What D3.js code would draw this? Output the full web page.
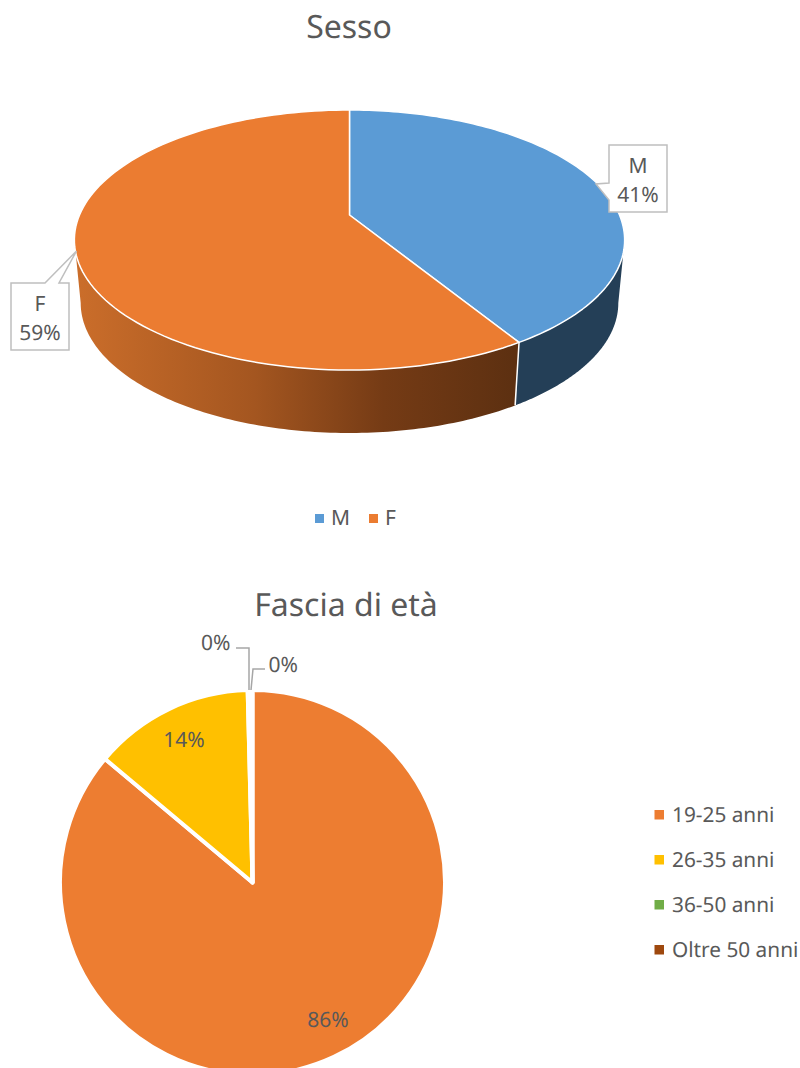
<!DOCTYPE html>
<html>
<head>
<meta charset="utf-8">
<script src="https://d3js.org/d3.v7.min.js"></script>
<style>
  html, body { margin: 0; padding: 0; background: #fff; }
  svg { display: block; }
  text { font-family: "Noto Sans", "Open Sans", sans-serif; fill: #595959; text-rendering: geometricPrecision; }
</style>
</head>
<body>
<div id="chart"></div>
<script>
// data
var sexLabels = ['M', 'F'];
var sexValues = [41.2, 58.8];
var sexColors = ['#5b9bd5', '#eb7c31'];

var ageLabels = ['19-25 anni', '26-35 anni', '36-50 anni', 'Oltre 50 anni'];
var ageValues = [86.1, 13.5, 0.2, 0.2];
var ageColors = ['#ed7d31', '#ffc000', '#70ad47', '#9e480e'];

var svg = d3.select('#chart').append('svg')
  .attr('width', 800)
  .attr('height', 1068);

var pct = function(v) { return d3.format('.0f')(v) + '%'; };
var pie = d3.pie().sort(null);

// title helper
function chartTitle(label, x, y) {
  svg.append('text')
    .attr('x', x).attr('y', y)
    .attr('text-anchor', 'middle')
    .style('font-size', '32px')
    .text(label);
}

/* ---- Sesso: tilted pie ---- */
chartTitle('Sesso', 349, 38);

// perspective of the tilted disc
var cx = 349.5, cy = 215, rx = 270, ry = 125.2, k = -0.1923;
var depth = 63, shrink = 0.977;
// angles where the disc is widest, only the part between them shows a wall
var wallStart = Math.acos(k), wallEnd = 2 * Math.PI - wallStart;

function topRim(a) {
  var u = Math.sin(a), v = -Math.cos(a), w = 1 + k * v;
  return [cx + rx * u / w, cy + ry * v / w];
}
function bottomRim(a) {
  var p = topRim(a);
  return [cx + (p[0] - cx) * shrink, p[1] + depth];
}
function angles(start, end) {
  return d3.range(0, 121).map(function(i) {
    return start + (end - start) * i / 120;
  });
}
var line = d3.line();

var defs = svg.append('defs');
var sideF = defs.append('linearGradient')
  .attr('id', 'sideF')
  .attr('gradientUnits', 'userSpaceOnUse')
  .attr('x1', 80).attr('x2', 514).attr('y1', 0).attr('y2', 0);
[[0, '#ca6d2a'], [0.4, '#a45620'], [0.7, '#753b15'], [1, '#5d3011']].forEach(function(s) {
  sideF.append('stop').attr('offset', s[0]).attr('stop-color', s[1]);
});
var sideFill = ['#243f57', 'url(#sideF)'];

var sexArcs = pie(sexValues);
var pie3d = svg.append('g');

// side walls first, the top face covers their upper edge
pie3d.selectAll('path.side')
  .data(sexArcs)
  .enter().append('path')
  .attr('class', 'side')
  .attr('fill', function(d, i) { return sideFill[i]; })
  .attr('d', function(d) {
    var a = angles(Math.max(d.startAngle, wallStart), Math.min(d.endAngle, wallEnd));
    return line(a.map(topRim).concat(a.slice().reverse().map(bottomRim))) + 'Z';
  });

// white seam between the two walls
pie3d.append('path')
  .attr('d', line([topRim(sexArcs[0].endAngle), bottomRim(sexArcs[0].endAngle)]))
  .attr('stroke', '#fff')
  .attr('stroke-width', 1.5);

pie3d.selectAll('path.face')
  .data(sexArcs)
  .enter().append('path')
  .attr('class', 'face')
  .attr('fill', function(d, i) { return sexColors[i]; })
  .attr('stroke', '#fff')
  .attr('stroke-width', 1.5)
  .attr('stroke-linejoin', 'round')
  .attr('d', function(d) {
    return line([[cx, cy]].concat(angles(d.startAngle, d.endAngle).map(topRim))) + 'Z';
  });

// callouts
var callouts = [
  { x: 609, y: 145, w: 58, h: 67, tail: [[0, 38], [-13, 39], [0, 55]], side: 'left' },
  { x: 11, y: 283, w: 58, h: 67, tail: [[34, 0], [65.5, -32], [48, 0]], side: 'top' }
];
callouts.forEach(function(c, i) {
  var pts;
  if (c.side === 'left') {
    pts = [[0, 0], [c.w, 0], [c.w, c.h], [0, c.h]].concat(c.tail.slice().reverse());
  } else {
    pts = [[0, 0]].concat(c.tail).concat([[c.w, 0], [c.w, c.h], [0, c.h]]);
  }
  var g = svg.append('g').attr('transform', 'translate(' + c.x + ',' + c.y + ')');
  g.append('path')
    .attr('d', line(pts) + 'Z')
    .attr('fill', '#fff')
    .attr('stroke', '#bfbfbf')
    .attr('stroke-width', 1.5);
  g.append('text')
    .attr('x', c.w / 2).attr('y', 28)
    .attr('text-anchor', 'middle')
    .style('font-size', '21px')
    .text(sexLabels[i]);
  g.append('text')
    .attr('x', c.w / 2).attr('y', 57)
    .attr('text-anchor', 'middle')
    .style('font-size', '21px')
    .text(pct(sexValues[i]));
});

// legend of the first chart
var legendX = [315, 369];
sexLabels.forEach(function(label, i) {
  svg.append('rect')
    .attr('x', legendX[i]).attr('y', 514)
    .attr('width', 9).attr('height', 9)
    .attr('fill', sexColors[i]);
  svg.append('text')
    .attr('x', legendX[i] + 16).attr('y', 525)
    .style('font-size', '21px')
    .text(label);
});

/* ---- Fascia di età: flat pie ---- */
chartTitle('Fascia di età', 346, 616);

var arc = d3.arc().innerRadius(0).outerRadius(192.5);
var flat = svg.append('g').attr('transform', 'translate(252.5,882.5)');
var ageArcs = pie(ageValues);

flat.selectAll('path')
  .data(ageArcs)
  .enter().append('path')
  .attr('d', arc)
  .attr('fill', function(d, i) { return ageColors[i]; })
  .attr('stroke', '#fff')
  .attr('stroke-width', 4)
  .attr('stroke-linejoin', 'round');

// data labels
var ageLabelPos = [[328, 1027], [184, 747], [298, 672], [201, 650]];
ageValues.forEach(function(v, i) {
  svg.append('text')
    .attr('x', ageLabelPos[i][0]).attr('y', ageLabelPos[i][1])
    .attr('text-anchor', i === 2 ? 'end' : (i === 3 ? 'start' : 'middle'))
    .style('font-size', '21px')
    .text(pct(v));
});

// leader lines of the two 0% labels
var leaders = [
  [[265, 669], [253, 669], [251, 690]],
  [[236, 648], [249, 648], [249, 690]]
];
leaders.forEach(function(l) {
  svg.append('path')
    .attr('d', line(l))
    .attr('fill', 'none')
    .attr('stroke', '#a6a6a6')
    .attr('stroke-width', 1.5);
});

// legend of the second chart
var legendY = d3.scalePoint().domain(ageLabels).range([815, 950]);
ageLabels.forEach(function(label, i) {
  svg.append('rect')
    .attr('x', 654.5).attr('y', legendY(label) - 5)
    .attr('width', 9.5).attr('height', 9.5)
    .attr('fill', ageColors[i]);
  svg.append('text')
    .attr('x', 672).attr('y', legendY(label) + 7)
    .style('font-size', '20.8px')
    .text(label);
});
</script>
</body>
</html>
